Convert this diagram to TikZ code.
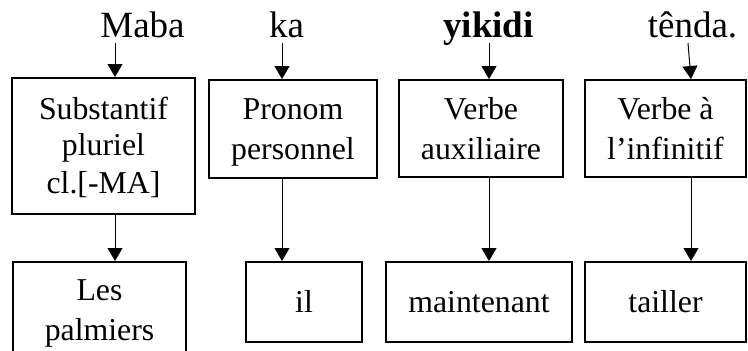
\documentclass[tikz,border=0pt]{standalone}
\usepackage{fontspec}
\setmainfont{Liberation Serif}
\usetikzlibrary{arrows.meta}
\newcommand{\st}{\rule[-9pt]{0pt}{39pt}}
\begin{document}
\begin{tikzpicture}[x=1pt, y=-1pt]
            \useasboundingbox (0, 0) rectangle (748, 351);
            {
                \tikzset{every node/.style = {font=\fontsize{31.8}{36}\selectfont}}
                \tikzset{box/.style = {draw, line width=2pt, align=center, inner sep=0pt}}
                \tikzset{word/.style = {anchor=base, font=\fontsize{37}{42}\selectfont, inner xsep=0pt, inner ysep=6pt, text depth=0pt}}

                \node[word] (maba) at (142.5, 37) {Maba};
                \node[word] (ka) at (286.5, 37) {ka};
                \node[word] (yikidi) at (488.5, 37) {\textbf{yikidi}};
                \node[word] (tenda) at (692.5, 37) {tênda.};

                \node[box, minimum width=183pt, minimum height=136pt] (sub) at (103.5, 146) {\st Substantif\\pluriel\\cl.[-MA]\st};
                \node[box, minimum width=168pt, minimum height=98pt] (pron) at (293, 129) {\st Pronom\\personnel\st};
                \node[box, minimum width=164pt, minimum height=97pt] (aux) at (481, 128.5) {\st Verbe\\auxiliaire\st};
                \node[box, minimum width=161pt, minimum height=97pt] (inf) at (665.5, 128.5) {\st Verbe à\\l’infinitif\st};

                \node[box, minimum width=173pt, minimum height=96pt] (les) at (99.5, 310) {\st Les\\palmiers\st};
                \node[box, minimum width=116pt, minimum height=80pt] (il) at (304, 302) {\st il};
                \node[box, minimum width=186pt, minimum height=80pt] (now) at (479, 302) {\st maintenant};
                \node[box, minimum width=161pt, minimum height=80pt] (cut) at (665.5, 302) {\st tailler};
            }

            % x of the arrows in each column
            \coordinate (c1) at (115, 0);
            \coordinate (c2) at (282, 0);
            \coordinate (c3) at (489, 0);
            \coordinate (c4a) at (688, 0);
            \coordinate (c4) at (691, 0);

            \tikzset{arr/.style = {-{Triangle[width=15pt, length=13pt]}, line width=1pt}}

            \draw[arr] (maba.south -| c1) -- (sub.north -| c1);
            \draw[arr] (ka.south -| c2) -- (pron.north -| c2);
            \draw[arr] (yikidi.south -| c3) -- (aux.north -| c3);
            \draw[arr] (tenda.south -| c4a) -- (inf.north -| c4);

            \draw[arr] (sub.south -| c1) -- (les.north -| c1);
            \draw[arr] (pron.south -| c2) -- (il.north -| c2);
            \draw[arr] (aux.south -| c3) -- (now.north -| c3);
            \draw[arr] (inf.south -| c4) -- (cut.north -| c4);

\end{tikzpicture}
\end{document}
